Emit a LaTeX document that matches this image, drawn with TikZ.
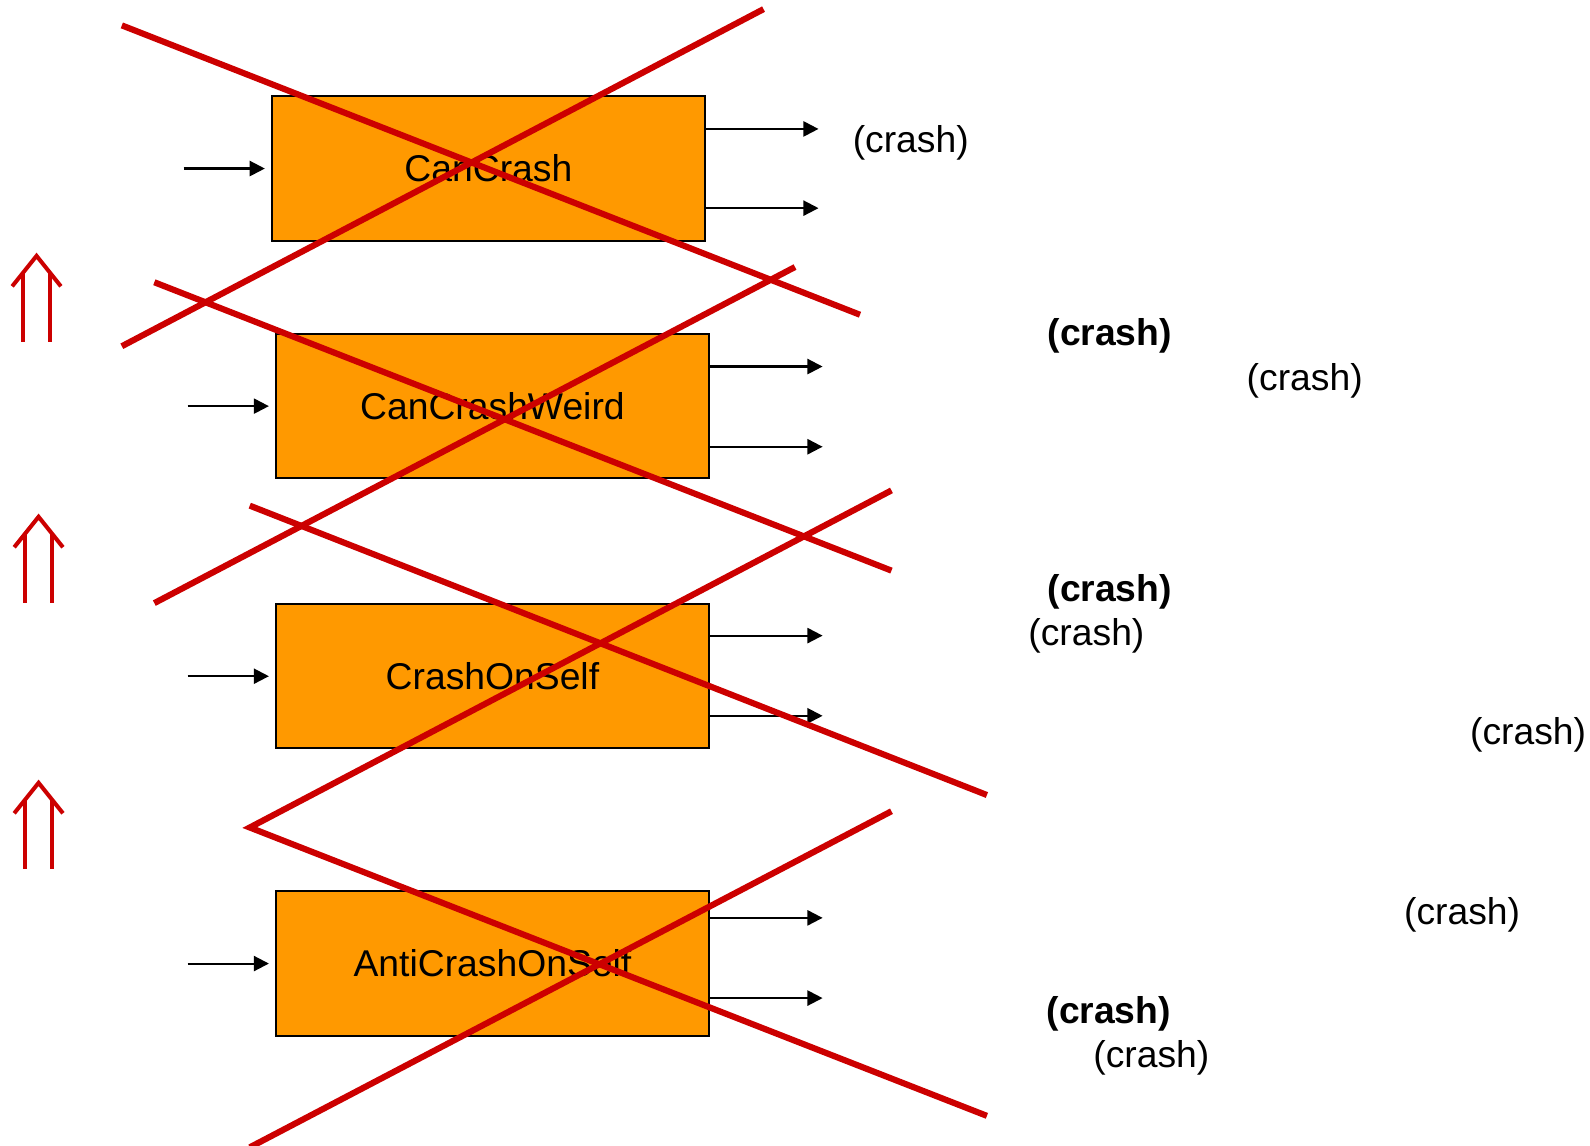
\documentclass[tikz,border=0pt]{standalone}
\usepackage{fontspec}
\setmainfont{Liberation Sans}
\usetikzlibrary{calc,
	positioning,
	arrows.meta}
\definecolor{boxorange}{RGB}{255,153,0}
\definecolor{crossred}{RGB}{204,0,0}

\begin{document}
\begin{tikzpicture}[x=0.010153cm,y=-0.010153cm,
	blk/.style={draw=black,fill=boxorange,line width=0.6pt,minimum width=4.325cm,minimum height=1.442cm,inner sep=0pt,font=\fontsize{10.6}{12}\selectfont},
	lbl/.style={inner sep=0pt,font=\fontsize{10.6}{12}\selectfont},
	flow/.style={-{Triangle[length=4.3pt,width=4.3pt]},line width=0.6pt},
	cross/.style={crossred,line width=1.75pt},
	upup/.style={crossred,line width=1.15pt}]
	\useasboundingbox (0,0) rectangle (1566,1128);
	% boxes with one input and two outputs
	\foreach \nm/\txt/\cx/\cy/\up/\dn in {cc/CanCrash/481/166/-39/39,
		ccw/CanCrashWeird/485/400/-39/40,
		cos/CrashOnSelf/485/666/-40/39,
		acos/AntiCrashOnSelf/485/949/-45/34} {
		\node[blk] (\nm) at (\cx,\cy) {\txt};
		\coordinate (\nm-in) at ($(\nm.west)+(-86,0)$);
		\coordinate (\nm-a) at ($(\nm.east)+(0,\up)$);
		\coordinate (\nm-b) at ($(\nm.east)+(0,\dn)$);
		\coordinate (\nm-ao) at ($(\nm-a)+(111,0)$);
		\coordinate (\nm-bo) at ($(\nm-b)+(111,0)$);
		\draw[flow,shorten >=0.061cm] (\nm-in) -- (\nm.west);
		\draw[flow] (\nm-a) -- (\nm-ao);
		\draw[flow] (\nm-b) -- (\nm-bo);
	}
	% results
	\node[lbl] (r1) at (897,141) {(crash)};
	\node[lbl] (r2) at (1093,331) {\textbf{(crash)}};
	\node[lbl] (r3) at (1285,375) {(crash)};
	\node[lbl] (r4) at (1093,583) {\textbf{(crash)}};
	\node[lbl] (r5) at (1070,626) {(crash)};
	\node[lbl] (r6) at (1505,724) {(crash)};
	\node[lbl] (r7) at (1440,901) {(crash)};
	\node[lbl] (r8) at (1092,999) {\textbf{(crash)}};
	\node[lbl] (r9) at (1134,1042) {(crash)};
	% crossed out
	\draw[cross] (120,25) -- (847,310);
	\draw[cross] (120,341) -- (752,9);
	\draw[cross] (152,278) -- (878,562);
	\draw[cross] (152,594) -- (783,263);
	\draw[cross] (246,498) -- (972,783);
	\draw[cross] (878,483) -- (246,815) -- (972,1099);
	\draw[cross] (246,1130) -- (878,799);
	% implication arrows
	\foreach \ax/\ay in {36/252,38/509,38/771} {
		\draw[upup] ($(\ax,\ay)+(-24,30)$) -- (\ax,\ay) -- ($(\ax,\ay)+(24,30)$);
		\draw[upup] ($(\ax,\ay)+(-13,17)$) -- ($(\ax,\ay)+(-13,85)$);
		\draw[upup] ($(\ax,\ay)+(13,17)$) -- ($(\ax,\ay)+(13,85)$);
	}
\end{tikzpicture}
\end{document}
